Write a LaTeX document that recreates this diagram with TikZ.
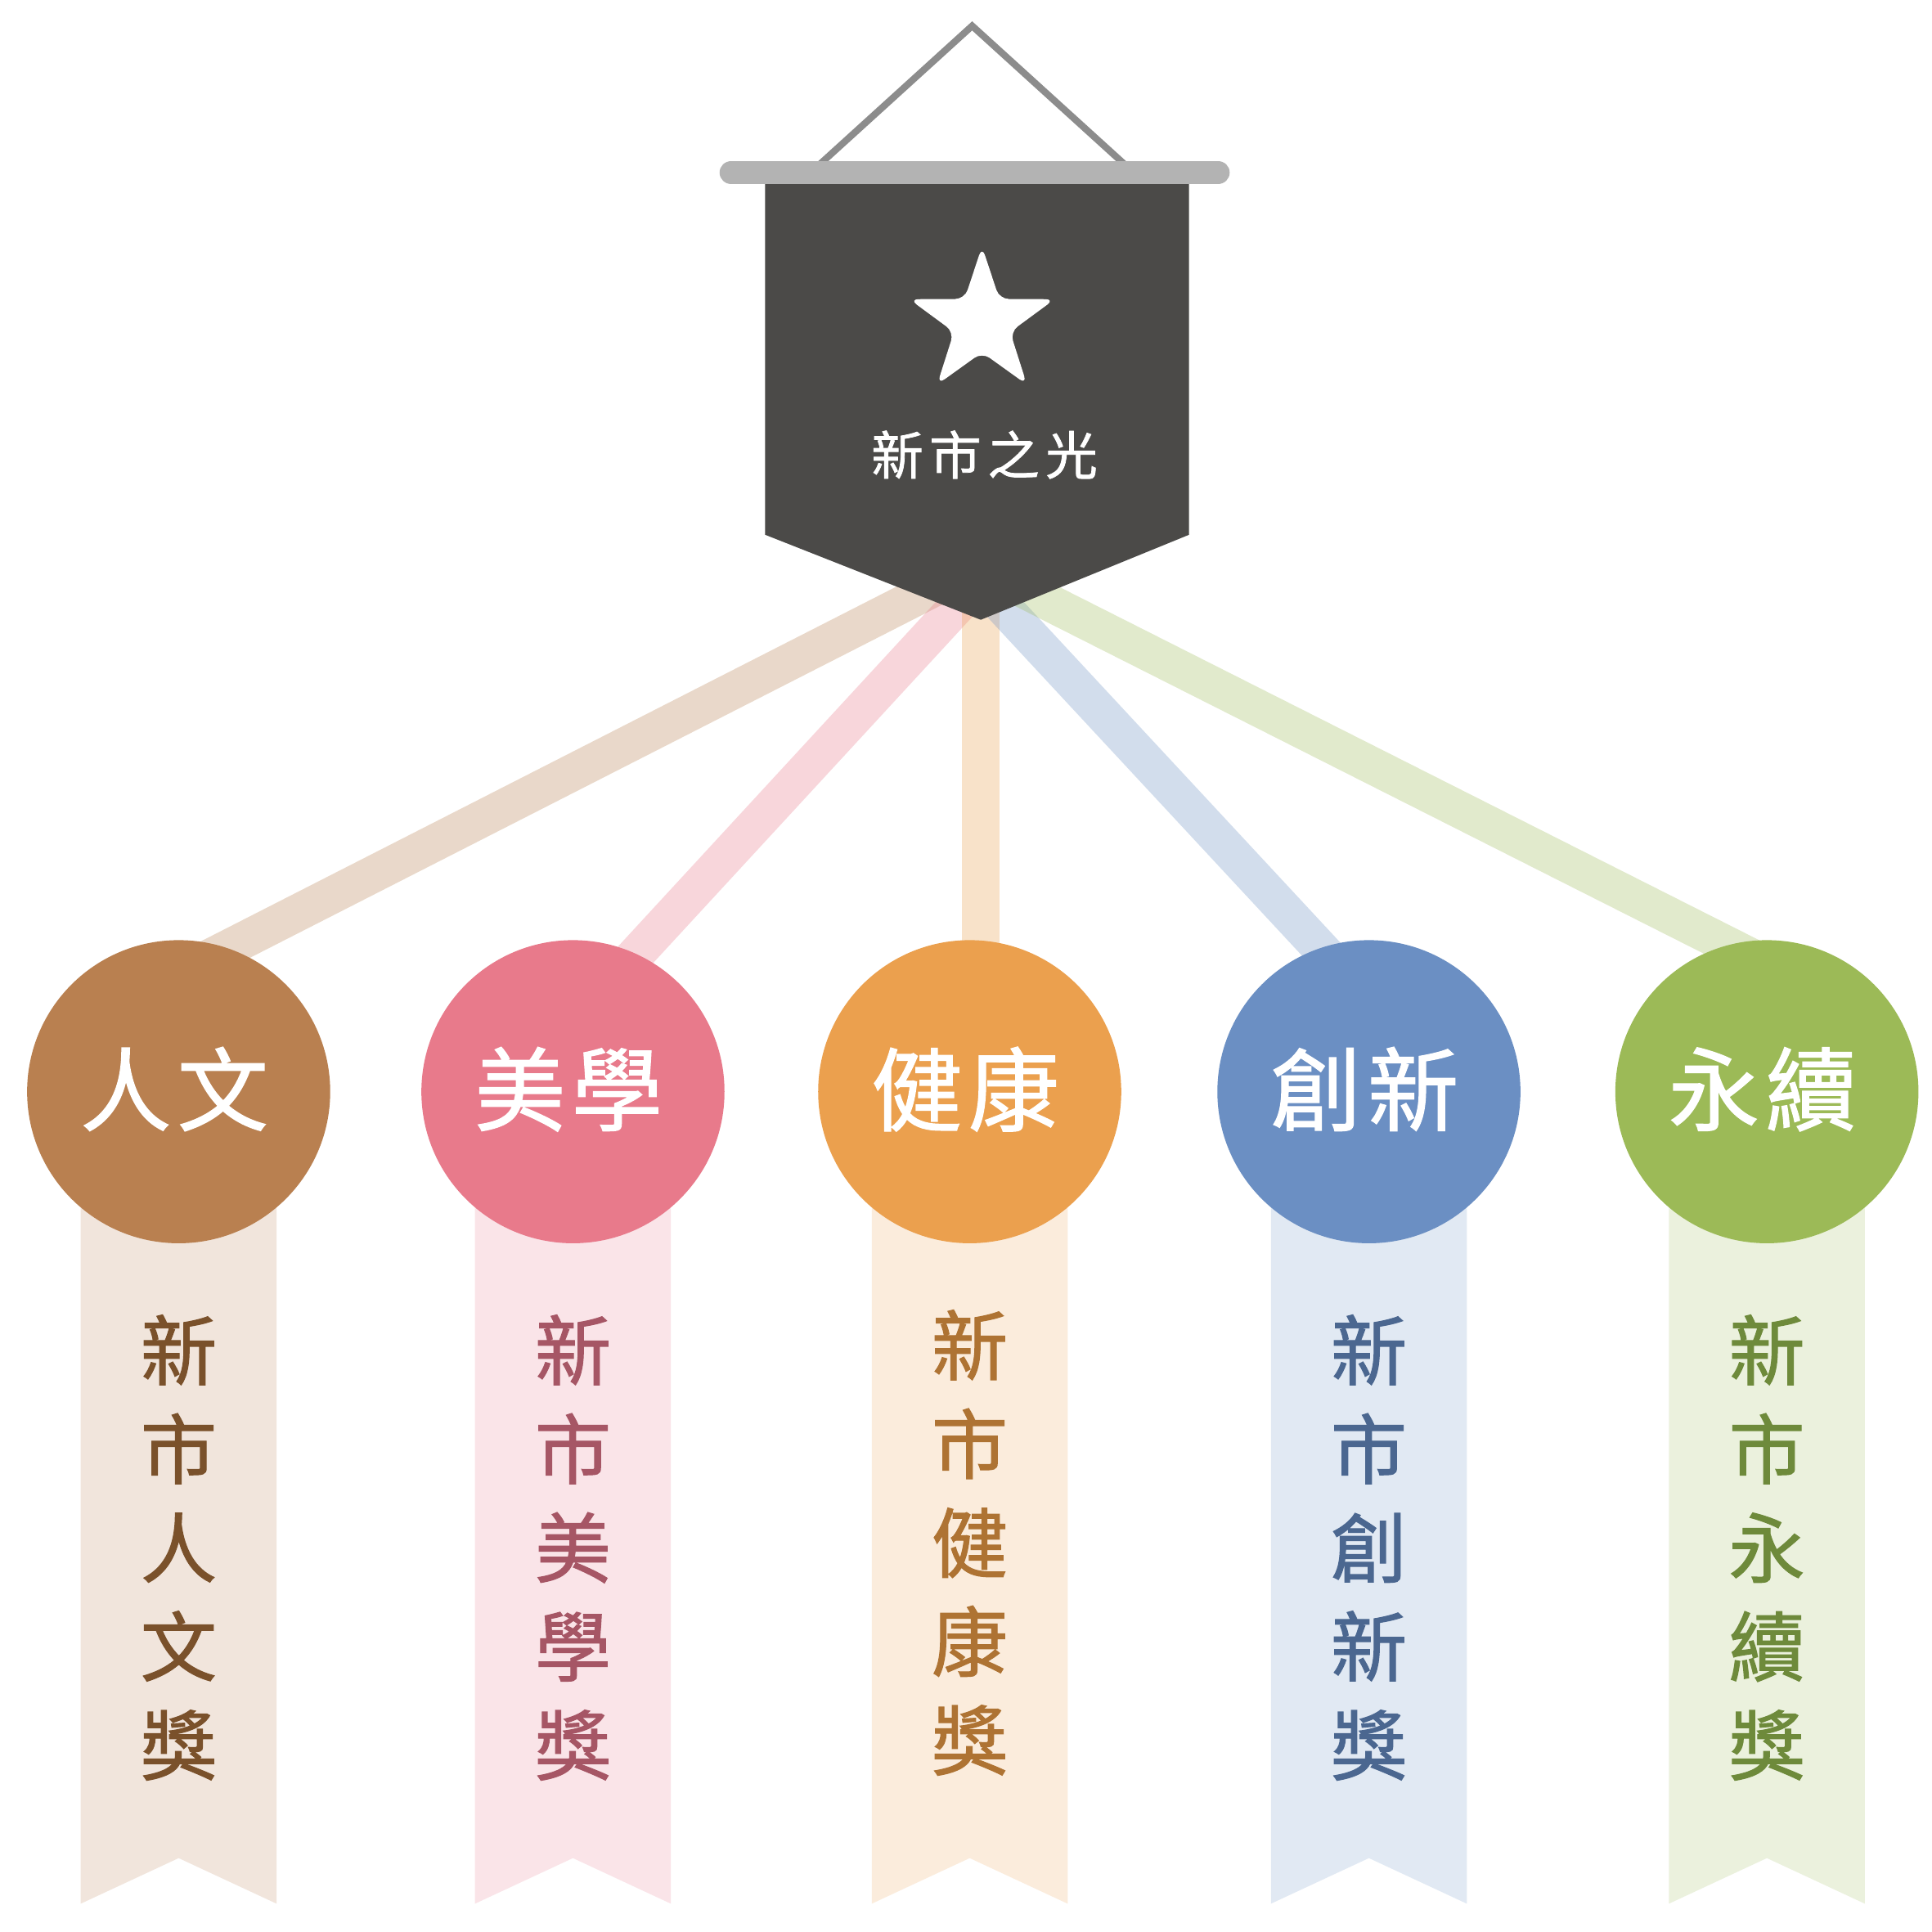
\documentclass[tikz,border=0pt]{standalone}
\usepackage{fontspec}
\setmainfont{Noto Sans CJK TC}
\newfontfamily\cjkb{Noto Sans CJK TC}[FakeBold=1.2]
\usetikzlibrary{calc}
\definecolor{cbrown}{HTML}{B98050}
\definecolor{cpink}{HTML}{E87A8B}
\definecolor{corange}{HTML}{EBA04E}
\definecolor{cblue}{HTML}{6B8FC3}
\definecolor{cgreen}{HTML}{9CBA57}
\definecolor{dbrown}{HTML}{7A512B}
\definecolor{dpink}{HTML}{A65665}
\definecolor{dorange}{HTML}{AE7333}
\definecolor{dblue}{HTML}{4B6790}
\definecolor{dgreen}{HTML}{6E8A3B}
\definecolor{cbanner}{HTML}{4B4A48}
\definecolor{crod}{HTML}{B3B3B3}
\definecolor{chang}{HTML}{8C8C8C}
\tikzset{
  band/.style={line width=3mm, opacity=0.3},
  medal/.style={circle, inner sep=0pt, minimum size=24.6mm, text=white,
    font=\cjkb\fontsize{21pt}{25pt}\selectfont},
  ribtext/.style={align=center, inner sep=0pt, font=\cjkb\fontsize{17.6pt}{22.8pt}\selectfont},
  titletext/.style={text=white, inner sep=0pt, font=\cjkb\fontsize{12pt}{14pt}\selectfont}
}
\begin{document}
\begin{tikzpicture}[x=0.1mm,y=-0.1mm]
\useasboundingbox (0,0) rectangle (1568,1568);
\fill[white] (0,0) rectangle (1568,1568);
% connector bands
\foreach \i/\col/\hy/\ex/\ey in {1/cbrown/458/145/790, 2/cpink/471/465/830, 3/corange/471/796/800, 4/cblue/473/1111/812, 5/cgreen/461/1434/783}{
  \coordinate (h\i) at (796,\hy);
  \coordinate (e\i) at (\ex,\ey);
  \draw[band, draw=\col] (h\i) -- (e\i);
}
% ribbons, medals and texts
\foreach \i/\x/\col/\dk/\ty/\med/\rib in {
  1/145/cbrown/dbrown/1256/人\kern0.5mm文/新\\市\\人\\文\\獎,
  2/465/cpink/dpink/1256/美\kern0.5mm學/新\\市\\美\\學\\獎,
  3/787/corange/dorange/1252/健\kern0.5mm康/新\\市\\健\\康\\獎,
  4/1111/cblue/dblue/1256/創\kern0.5mm新/新\\市\\創\\新\\獎,
  5/1434/cgreen/dgreen/1256/永\kern0.5mm續/新\\市\\永\\續\\獎}{
  \fill[\col!20] (\x-79.5,900) -- (\x+79.5,900) -- (\x+79.5,1545) -- (\x,1508) -- (\x-79.5,1545) -- cycle;
  \node[medal, fill=\col] (m\i) at (\x,886) {\kern-0.7mm\raisebox{1mm}{\med}};
  \node[ribtext, text=\dk] (t\i) at (\x,\ty) {\rib};
}
% hanger and rod
\coordinate (apex) at (789,21);
\coordinate (hl) at (658,140);
\coordinate (hr) at (920,140);
\draw[chang, line width=0.55mm, line join=miter] (hl) -- (apex) -- (hr);
% banner
\coordinate (tip) at (796,503);
\fill[cbanner] (621,149) -- (965,149) -- (965,434) -- (tip) -- (621,434) -- cycle;
\coordinate (rl) at (593.5,140);
\coordinate (rr) at (988.5,140);
\draw[crod, line width=1.9mm, line cap=round] (rl) -- (rr);
% star
\coordinate (star) at (797,262);
\fill[white, rounded corners=0.75mm, shift={(star)}]
  (-90:62) -- (-54:24) -- (-18:62) -- (18:24) -- (54:62) -- (90:24) -- (126:62) -- (162:24) -- (198:62) -- (234:24) -- cycle;
\node[titletext] (title) at (799,369) {新\kern0.5mm市\kern0.5mm之\kern0.5mm光};
\end{tikzpicture}
\end{document}
